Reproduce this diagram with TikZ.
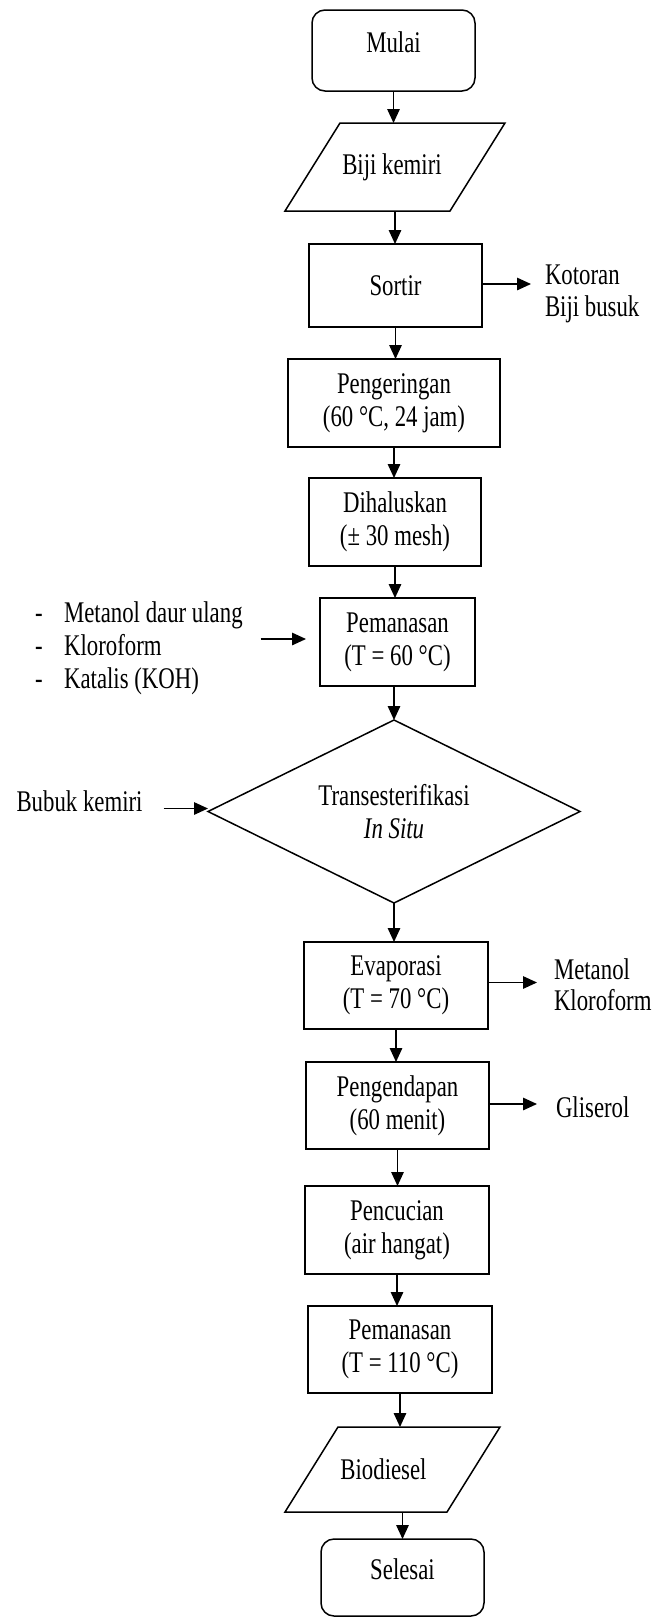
\documentclass[tikz,border=0pt]{standalone}
\usepackage{fontspec}
\setmainfont{Liberation Serif}[FakeStretch=0.76]
\usetikzlibrary{arrows.meta,calc}
\begin{document}
\begin{tikzpicture}[x=1pt,y=-1pt,
  every node/.style={font=\fontsize{30}{33}\selectfont},
  ln/.style={line width=1.5pt},
  arr/.style={line width=1.4pt,-{Triangle[length=14pt,width=12.5pt]}},
  box/.style={draw,line width=1.5pt,rectangle,inner sep=0pt,outer sep=0pt,align=center},
  term/.style={box,rounded corners=13pt,text depth=17pt},
  shp/.style={rectangle,inner sep=0pt,outer sep=0pt,align=center},
  lbl/.style={inner sep=0pt,outer sep=0pt,anchor=base west},
]
\useasboundingbox (0,0) rectangle (667,1617);

% main column
\node[term,minimum width=163pt,minimum height=81pt] (mulai) at (393.5,50.5) {Mulai};
\node[shp,minimum width=220pt,minimum height=88pt] (biji) at (395,167) {Biji kemiri\hspace*{6pt}};
\draw[ln] ([xshift=55pt]biji.north west) -- (biji.north east) -- ([xshift=-55pt]biji.south east) -- (biji.south west) -- cycle;
\node[box,minimum width=173pt,minimum height=83pt] (sortir) at (395.5,285.5) {Sortir};
\node[box,minimum width=212pt,minimum height=88pt] (peng) at (394,403) {Pengeringan\\(60 °C, 24 jam)};
\node[box,minimum width=172pt,minimum height=88pt] (dihal) at (395,522) {Dihaluskan\\(± 30 mesh)};
\node[box,minimum width=155pt,minimum height=88pt] (pem1) at (397.5,642) {Pemanasan\\(T = 60 °C)};
\node[shp,minimum width=372pt,minimum height=183pt] (trans) at (394,811.5) {Transesterifikasi\\\textit{In Situ}};
\draw[ln] (trans.north) -- (trans.east) -- (trans.south) -- (trans.west) -- cycle;
\node[box,minimum width=184pt,minimum height=87pt] (evap) at (396,985.5) {Evaporasi\\(T = 70 °C)};
\node[box,minimum width=183pt,minimum height=87pt] (endap) at (397.5,1105.5) {Pengendapan\\(60 menit)};
\node[box,minimum width=184pt,minimum height=88pt] (cuci) at (397,1230) {Pencucian\\(air hangat)};
\node[box,minimum width=184pt,minimum height=87pt] (pem2) at (400,1349.5) {Pemanasan\\(T = 110 °C)};
\node[shp,minimum width=215pt,minimum height=85pt] (bio) at (392.5,1469.5) {Biodiesel\hspace*{18pt}};
\draw[ln] ([xshift=53pt]bio.north west) -- (bio.north east) -- ([xshift=-53pt]bio.south east) -- (bio.south west) -- cycle;
\node[term,minimum width=163pt,minimum height=77pt] (selesai) at (402.5,1577.5) {Selesai};

% side texts
\node[lbl] (kot1) at (545,284) {Kotoran};
\node[lbl] (kot2) at (545,316.7) {Biji busuk};
\node[lbl] (met1) at (554,979.3) {Metanol};
\node[lbl] (met2) at (554,1010) {Kloroform};
\node[lbl] (gli) at (556,1117) {Gliserol};
\node[lbl] (bubuk) at (16.5,811) {Bubuk kemiri};
\node[inner sep=0pt,outer sep=0pt,anchor=west] (list) at (35,649)
  {\begin{tabular}{@{}l@{\hspace{21.5pt}}l@{}}-&Metanol daur ulang\\-&Kloroform\\-&Katalis (KOH)\end{tabular}};

% vertical arrows
\draw[arr] (mulai.south) -- (mulai.south |- biji.north);
\draw[arr] (biji.south) -- (biji.south |- sortir.north);
\draw[arr] (sortir.south) -- (sortir.south |- peng.north);
\draw[arr] (peng.south) -- (peng.south |- dihal.north);
\draw[arr] (dihal.south) -- (dihal.south |- pem1.north);
\draw[arr] (trans.north |- pem1.south) -- (trans.north);
\draw[arr] (trans.south) -- (trans.south |- evap.north);
\draw[arr] (evap.south) -- (evap.south |- endap.north);
\draw[arr] (endap.south) -- (endap.south |- cuci.north);
\draw[arr] (cuci.south) -- (cuci.south |- pem2.north);
\draw[arr] (pem2.south) -- (pem2.south |- bio.north);
\draw[arr] (selesai.north |- bio.south) -- (selesai.north);

% side arrows
\draw[arr] (sortir.east |- kot1.base) -- ($(kot1.base west)+(-14,0)$);
\draw[arr] ($(evap.east)+(0,-3)$) -- ($(evap.east -| met1.west)+(-17,-3)$);
\draw[arr] ($(endap.east)+(0,-1.5)$) -- ($(endap.east -| gli.west)+(-19,-1.5)$);
\draw[arr] ($(list.east |- pem1.west)+(18,-3)$) -- ($(pem1.west)+(-14,-3)$);
\draw[arr] ($(bubuk.east |- trans.west)+(21,-3)$) -- ($(trans.west)+(0,-3)$);
\end{tikzpicture}
\end{document}
